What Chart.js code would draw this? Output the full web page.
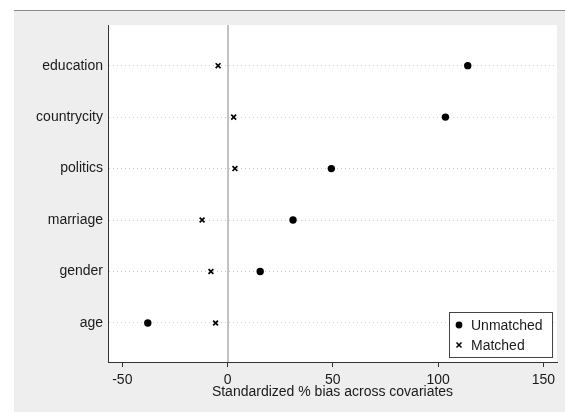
<!DOCTYPE html>
<html>
<head>
<meta charset="utf-8">
<script src="https://cdn.jsdelivr.net/npm/chart.js@4"></script>
<style>
  html, body { margin: 0; padding: 0; background: #fff; }
  canvas { display: block; }
</style>
</head>
<body>
<canvas id="biasChart" width="565" height="412"></canvas>
<script>
/* ==================== 数据 ==================== */
// 协变量（从下到上）
const covariates = ['age', 'gender', 'marriage', 'politics', 'countrycity', 'education'];
// 匹配前的标准化偏差 (%)
const unmatched = [-37.9, 15.5, 31.1, 49.3, 103.5, 114.1];
// 匹配后的标准化偏差 (%)
const matched = [-5.7, -7.9, -12.1, 3.5, 2.9, -4.5];
// X 轴刻度
const xTicks = [-50, 0, 50, 100, 150];

const FONT = "'Liberation Sans', Arial, sans-serif";

/* ==================== 背景与零线、图例 ==================== */
const stataFrame = {
    id: 'stataFrame',
    beforeDraw(chart) {
        const c = chart.ctx, a = chart.chartArea;
        c.save();
        c.fillStyle = '#ffffff';
        c.fillRect(0, 0, chart.width, chart.height);
        c.fillStyle = '#eeeeee';
        c.fillRect(14, 10, chart.width - 14, chart.height - 10);
        c.fillStyle = '#8a8a8a';
        c.fillRect(14, 10, chart.width - 14, 1);
        c.fillStyle = '#ffffff';
        c.fillRect(a.left, a.top, a.right - a.left, a.bottom - a.top);
        c.restore();
    },
    beforeDatasetsDraw(chart) {
        // 零参考线
        const c = chart.ctx, a = chart.chartArea;
        const x0 = Math.round(chart.scales.x.getPixelForValue(0));
        c.save();
        c.fillStyle = '#c2c2c2';
        c.fillRect(x0 - 1, a.top, 2, a.bottom - a.top);
        c.restore();
    },
    afterDraw(chart) {
        // 图例框（右下角）
        const c = chart.ctx;
        const bx = 449.5, by = 312.5, bw = 103, bh = 45;
        c.save();
        c.fillStyle = '#ffffff';
        c.fillRect(bx, by, bw, bh);
        c.strokeStyle = '#444444';
        c.lineWidth = 1;
        c.strokeRect(bx, by, bw, bh);
        c.font = '14px ' + FONT;
        c.textBaseline = 'middle';
        chart.data.datasets.forEach((ds, i) => {
            const ly = 325 + i * 20;
            const mx = 459;
            if (ds.pointStyle === 'circle') {
                c.fillStyle = '#000';
                c.beginPath();
                c.arc(mx, ly, 3.4, 0, Math.PI * 2);
                c.fill();
            } else {
                c.strokeStyle = '#000';
                c.lineWidth = 1.5;
                c.beginPath();
                c.moveTo(mx - 2.5, ly - 2.5); c.lineTo(mx + 2.5, ly + 2.5);
                c.moveTo(mx + 2.5, ly - 2.5); c.lineTo(mx - 2.5, ly + 2.5);
                c.stroke();
            }
            c.fillStyle = '#1a1a1a';
            c.fillText(ds.label, 471, ly + 1);
        });
        c.restore();
    }
};

/* ==================== 图表 ==================== */
new Chart(document.getElementById('biasChart'), {
    type: 'scatter',
    data: {
        datasets: [{
            label: 'Unmatched',
            data: unmatched.map((v, i) => ({ x: v, y: i + 1 })),
            pointStyle: 'circle',
            pointRadius: 3.7,
            backgroundColor: '#000',
            borderColor: '#000',
            borderWidth: 0
        }, {
            label: 'Matched',
            data: matched.map((v, i) => ({ x: v, y: i + 1 })),
            pointStyle: 'crossRot',
            pointRadius: 3.4,
            borderColor: '#000',
            borderWidth: 1.7
        }]
    },
    options: {
        responsive: false,
        animation: false,
        devicePixelRatio: 1,
        layout: { padding: { left: 0, top: 25, right: 8, bottom: 0 } },
        plugins: {
            legend: { display: false },
            tooltip: { enabled: false }
        },
        scales: {
            x: {
                type: 'linear',
                min: -56.8,
                max: 156.5,
                afterBuildTicks: s => { s.ticks = xTicks.map(v => ({ value: v })); },
                afterFit: s => { s.height = 50; },
                grid: {
                    drawOnChartArea: false,
                    drawTicks: true,
                    tickLength: 5,
                    tickColor: '#333'
                },
                border: { color: '#333', width: 1 },
                ticks: {
                    color: '#1a1a1a',
                    font: { family: FONT, size: 14 },
                    padding: 5,
                    maxRotation: 0
                },
                title: {
                    display: true,
                    text: 'Standardized % bias across covariates',
                    color: '#1a1a1a',
                    font: { family: FONT, size: 14 },
                    padding: { top: 0, bottom: 11 }
                }
            },
            y: {
                type: 'linear',
                min: 0.242,
                max: 6.79,
                afterBuildTicks: s => { s.ticks = covariates.map((c, i) => ({ value: i + 1 })); },
                afterFit: s => { s.width = 108; },
                grid: {
                    color: '#cccccc',
                    lineWidth: 1,
                    drawTicks: false
                },
                border: { color: '#333', width: 1, dash: [1, 3] },
                ticks: {
                    color: '#1a1a1a',
                    font: { family: FONT, size: 14 },
                    padding: 5,
                    callback: v => covariates[v - 1]
                }
            }
        }
    },
    plugins: [stataFrame]
});
</script>
</body>
</html>
